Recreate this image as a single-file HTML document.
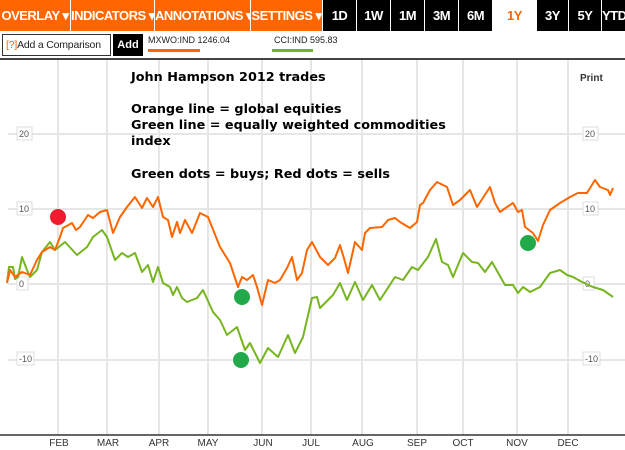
<!DOCTYPE html>
<html><head><meta charset="utf-8"><style>
body{margin:0;width:625px;height:450px;background:#fff;overflow:hidden;position:relative;font-family:"Liberation Sans",Arial,sans-serif}
.b{position:absolute;top:0;height:31px;line-height:31px;color:#fff;font-weight:bold;font-size:13px;text-align:center;letter-spacing:-0.5px;white-space:nowrap}
.o{background:#ff6600}.k{background:#000}
</style></head><body>
<div class="b o" style="left:0;width:70px">OVERLAY ▾</div>
<div class="b o" style="left:71px;width:83px">INDICATORS ▾</div>
<div class="b o" style="left:155px;width:95px">ANNOTATIONS ▾</div>
<div class="b o" style="left:251px;width:71px">SETTINGS ▾</div>
<div class="b k" style="left:323px;width:33px">1D</div>
<div class="b k" style="left:357px;width:33px">1W</div>
<div class="b k" style="left:391px;width:33px">1M</div>
<div class="b k" style="left:425px;width:33px">3M</div>
<div class="b k" style="left:459px;width:33px">6M</div>
<div class="b" style="left:493px;width:43px;color:#ff6600;background:#fff">1Y</div>
<div class="b k" style="left:537px;width:31px">3Y</div>
<div class="b k" style="left:569px;width:32px">5Y</div>
<div class="b k" style="left:602px;width:23px">YTD</div>
<div style="position:absolute;left:2px;top:34px;width:107px;height:20px;border:1px solid #333;font-size:10.5px;line-height:20px;color:#222;white-space:nowrap;overflow:hidden;letter-spacing:-0.2px"><span style="color:#ff6600;margin-left:3px">[?]</span>Add a Comparison</div>
<div style="position:absolute;left:113px;top:34px;width:30px;height:22px;background:#000;color:#fff;font-weight:bold;font-size:11px;line-height:22px;text-align:center">Add</div>
<div style="position:absolute;left:148px;top:35px;font-size:9px;color:#222;white-space:nowrap">MXWO:IND 1246.04</div>
<div style="position:absolute;left:148px;top:49px;width:52px;height:3px;background:#ff6600"></div>
<div style="position:absolute;left:274px;top:35px;font-size:9px;color:#222;white-space:nowrap">CCI:IND 595.83</div>
<div style="position:absolute;left:272px;top:49px;width:41px;height:3px;background:#77b520"></div>
<div style="position:absolute;left:0;top:58px;width:625px;height:2px;background:#444"></div>
<svg width="625" height="450" style="position:absolute;left:0;top:0">
<g stroke="#e6e6e6" stroke-width="2">
<line x1="58" y1="60" x2="58" y2="435"/><line x1="107" y1="60" x2="107" y2="435"/><line x1="159" y1="60" x2="159" y2="435"/><line x1="208" y1="60" x2="208" y2="435"/><line x1="262" y1="60" x2="262" y2="435"/><line x1="311" y1="60" x2="311" y2="435"/><line x1="362" y1="60" x2="362" y2="435"/><line x1="417" y1="60" x2="417" y2="435"/><line x1="463" y1="60" x2="463" y2="435"/><line x1="517" y1="60" x2="517" y2="435"/><line x1="568" y1="60" x2="568" y2="435"/>
<line x1="8" y1="134" x2="625" y2="134"/><line x1="8" y1="209" x2="625" y2="209"/><line x1="8" y1="284" x2="625" y2="284"/><line x1="8" y1="360" x2="625" y2="360"/>
</g>
<line x1="0" y1="435" x2="625" y2="435" stroke="#333" stroke-width="1.5"/>
<g font-size="9" fill="#555" font-family="Liberation Sans,sans-serif">
<rect x="17" y="127" width="15" height="13" fill="#fff" stroke="#ddd"/><text x="19" y="137">20</text>
<rect x="17" y="202" width="15" height="13" fill="#fff" stroke="#ddd"/><text x="19" y="212">10</text>
<rect x="17" y="277" width="11" height="13" fill="#fff" stroke="#ddd"/><text x="19" y="287">0</text>
<rect x="17" y="352" width="17" height="13" fill="#fff" stroke="#ddd"/><text x="19" y="362">-10</text>
<rect x="583" y="127" width="15" height="13" fill="#fff" stroke="#ddd"/><text x="585" y="137">20</text>
<rect x="583" y="202" width="15" height="13" fill="#fff" stroke="#ddd"/><text x="585" y="212">10</text>
<rect x="583" y="277" width="11" height="13" fill="#fff" stroke="#ddd"/><text x="585" y="287">0</text>
<rect x="583" y="352" width="17" height="13" fill="#fff" stroke="#ddd"/><text x="585" y="362">-10</text>
</g>
<g font-size="10" fill="#333" text-anchor="middle" font-family="Liberation Sans,sans-serif">
<text x="59" y="446">FEB</text><text x="108" y="446">MAR</text><text x="159" y="446">APR</text><text x="208" y="446">MAY</text><text x="263" y="446">JUN</text><text x="311" y="446">JUL</text><text x="363" y="446">AUG</text><text x="417" y="446">SEP</text><text x="463" y="446">OCT</text><text x="517" y="446">NOV</text><text x="568" y="446">DEC</text>
</g>
<text x="580" y="81" font-size="10" font-weight="bold" fill="#333" font-family="Liberation Sans,sans-serif">Print</text>
<g font-family="DejaVu Sans,sans-serif" font-weight="bold" font-size="12.8" fill="#000">
<text x="131" y="81">John Hampson 2012 trades</text>
<text x="131" y="113">Orange line = global equities</text>
<text x="131" y="129">Green line = equally weighted commodities</text>
<text x="131" y="145">index</text>
<text x="131" y="178">Green dots = buys; Red dots = sells</text>
</g>
<polyline fill="none" stroke="#77b520" stroke-width="2" stroke-linejoin="round" points="7,283 9,267 13,267 15,279 18,277 22,257 27,270 30,277 37,270 42,252 50,242 55,250 65,242 77,255 87,247 93,237 102,230 107,237 115,260 122,253 128,257 135,253 142,272 148,265 153,282 158,267 163,283 170,287 173,295 177,287 182,298 187,302 197,298 203,290 213,312 220,320 227,335 237,327 245,350 250,343 260,363 268,348 278,357 288,335 295,353 303,337 312,298 317,297 320,308 325,303 333,295 340,283 347,300 355,282 363,300 372,285 380,300 395,277 403,280 412,267 418,270 428,257 436,239 442,262 448,265 453,277 463,253 472,262 478,263 485,272 492,262 505,285 513,285 518,293 523,287 530,292 540,287 550,273 560,270 567,275 573,277 582,282 593,287 603,290 613,297"/>
<polyline fill="none" stroke="#ff6600" stroke-width="2" stroke-linejoin="round" points="7,283 10,270 15,277 22,272 30,275 37,260 42,252 50,247 55,250 60,237 63,228 72,223 76,230 80,227 88,215 93,218 100,212 107,210 113,233 120,217 127,207 135,197 142,208 147,198 153,207 158,197 163,217 168,220 172,237 177,222 180,233 185,220 192,233 200,213 208,217 220,247 230,263 238,287 242,277 247,280 253,275 257,287 262,305 268,280 275,283 280,280 287,268 292,257 297,280 302,273 307,250 312,242 320,257 328,265 335,258 340,245 345,262 348,273 355,242 362,250 365,233 370,228 382,227 388,220 395,218 400,222 410,228 417,222 420,205 423,203 430,190 437,182 447,187 453,205 460,200 470,190 477,207 490,187 495,203 500,212 507,207 513,203 518,212 522,210 525,227 533,233 538,241 543,225 550,210 560,203 570,197 578,193 587,193 595,180 600,187 608,190 610,195 613,188"/>
<circle cx="58" cy="217" r="8" fill="#ee1c2e"/>
<circle cx="242" cy="297" r="8" fill="#22aa4a"/>
<circle cx="241" cy="360" r="8" fill="#22aa4a"/>
<circle cx="528" cy="243" r="8" fill="#22aa4a"/>
</svg>
</body></html>
